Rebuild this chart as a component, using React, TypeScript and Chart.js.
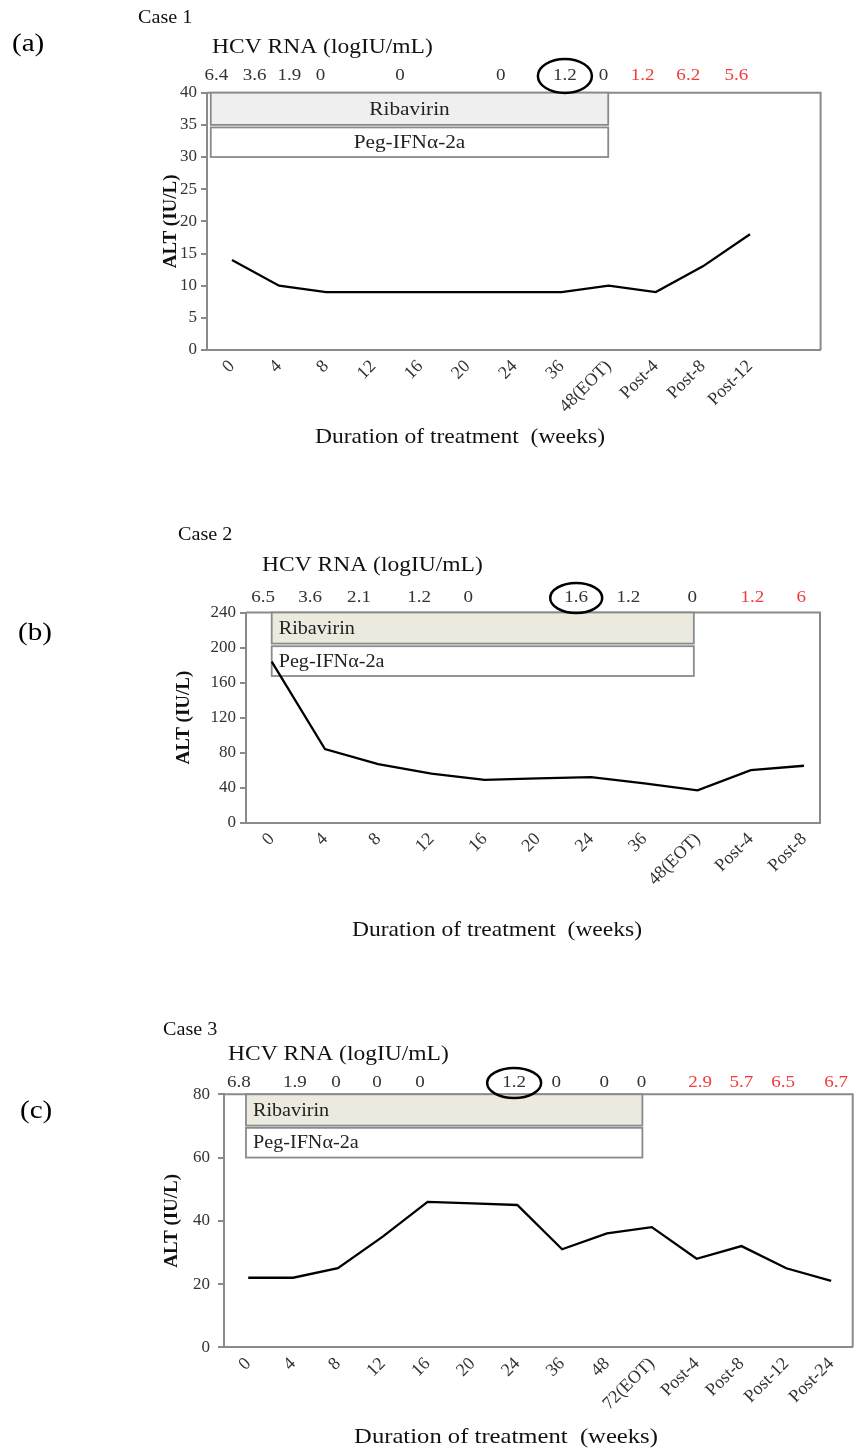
import { useEffect, useRef } from 'react';
import { Chart, registerables } from 'chart.js';

Chart.register(...registerables);

const FONT = "'Liberation Serif', 'Times New Roman', serif";
const SX = 1.12; // horizontal stretch of the original figure's lettering
const AXIS = '#8a8a8a';
const RED = '#f03c3c';
const DARK = '#333333';

// ---------- Case 1 ----------
const weeksA = ['0', '4', '8', '12', '16', '20', '24', '36', '48(EOT)', 'Post-4', 'Post-8', 'Post-12'];
const altA = [14, 10, 9, 9, 9, 9, 9, 9, 10, 9, 13, 18];
const hcvA = ['6.4', '3.6', '1.9', '0', '0', '0', '1.2', '0', '1.2', '6.2', '5.6'];
const hcvAtA = [-0.33, 0.48, 1.22, 1.88, 3.57, 5.71, 7.07, 7.89, 8.72, 9.69, 10.71];
const ribavirinA = [-0.45, 7.99, 35, 40];
const pegA = [-0.45, 7.99, 30, 34.6];

// ---------- Case 2 ----------
const weeksB = ['0', '4', '8', '12', '16', '20', '24', '36', '48(EOT)', 'Post-4', 'Post-8'];
const altB = [184, 84, 67, 56, 49, 50.5, 52, 45, 37, 60, 65];
const hcvB = ['6.5', '3.6', '2.1', '1.2', '0', '1.6', '1.2', '0', '1.2', '6'];
const hcvAtB = [-0.16, 0.72, 1.64, 2.77, 3.69, 5.72, 6.7, 7.9, 9.03, 9.95];
const ribavirinB = [0, 7.93, 204.5, 240];
const pegB = [0, 7.93, 167.5, 201.5];

// ---------- Case 3 ----------
const weeksC = ['0', '4', '8', '12', '16', '20', '24', '36', '48', '72(EOT)', 'Post-4', 'Post-8', 'Post-12', 'Post-24'];
const altC = [22, 22, 25, 35, 46, 45.5, 45, 31, 36, 38, 28, 32, 25, 21];
const hcvC = ['6.8', '1.9', '0', '0', '0', '1.2', '0', '0', '0', '2.9', '5.7', '6.5', '6.7'];
const hcvAtC = [-0.21, 1.04, 1.96, 2.87, 3.83, 5.93, 6.87, 7.94, 8.77, 10.08, 11.0, 11.93, 13.11];
const ribavirinC = [-0.05, 8.79, 70.1, 80];
const pegC = [-0.05, 8.79, 60, 69.4];

type Cfg = {
  top: number; height: number;
  left: number; right: number; ctop: number; cbottom: number;
  yTitleX: number; yTickPad: number;
  xMin: number; xMax: number; yMax: number; yStep: number;
  labels: string[]; alt: number[];
  hcv: string[]; hcvAt: number[]; postStart: number; circled: number;
  rib: number[]; peg: number[]; ribFill: string; boxAlign: 'center' | 'left'; boxFont: number;
  numY: number; circleR: [number, number];
  caseText: string; caseXY: [number, number];
  letter: string; letterXY: [number, number];
  hcvTitleXY: [number, number]; durXY: [number, number]; durFont: number;
};

const panels: Cfg[] = [
  {
    top: 0, height: 470, left: 207, right: 820.6, ctop: 92.7, cbottom: 350,
    yTitleX: 171, yTickPad: 4, xMin: -0.53, xMax: 12.5, yMax: 40, yStep: 5,
    labels: weeksA, alt: altA, hcv: hcvA, hcvAt: hcvAtA, postStart: 8, circled: 6,
    rib: ribavirinA, peg: pegA, ribFill: '#efefef', boxAlign: 'center', boxFont: 19,
    numY: 76, circleR: [27, 17],
    caseText: 'Case 1', caseXY: [138, 18], letter: '(a)', letterXY: [12, 44],
    hcvTitleXY: [212, 47], durXY: [460, 437], durFont: 21,
  },
  {
    top: 490, height: 480, left: 246, right: 820, ctop: 612.5, cbottom: 822.7,
    yTitleX: 184, yTickPad: 4, xMin: -0.483, xMax: 10.3, yMax: 240, yStep: 40,
    labels: weeksB, alt: altB, hcv: hcvB, hcvAt: hcvAtB, postStart: 8, circled: 5,
    rib: ribavirinB, peg: pegB, ribFill: '#ece9df', boxAlign: 'left', boxFont: 18,
    numY: 598, circleR: [26, 15],
    caseText: 'Case 2', caseXY: [178, 535], letter: '(b)', letterXY: [18, 633],
    hcvTitleXY: [262, 565], durXY: [497, 930], durFont: 21,
  },
  {
    top: 990, height: 459, left: 224, right: 852.7, ctop: 1094.3, cbottom: 1347.3,
    yTitleX: 172, yTickPad: 8, xMin: -0.54, xMax: 13.48, yMax: 80, yStep: 20,
    labels: weeksC, alt: altC, hcv: hcvC, hcvAt: hcvAtC, postStart: 9, circled: 5,
    rib: ribavirinC, peg: pegC, ribFill: '#ece9df', boxAlign: 'left', boxFont: 18,
    numY: 1083, circleR: [27, 15],
    caseText: 'Case 3', caseXY: [163, 1030], letter: '(c)', letterXY: [20, 1111],
    hcvTitleXY: [228, 1054], durXY: [506, 1437], durFont: 22,
  },
];

function txt(
  ctx: CanvasRenderingContext2D, s: string, x: number, y: number, size: number,
  color: string, align: CanvasTextAlign = 'left', weight = 'normal', sx = SX,
) {
  ctx.save();
  ctx.font = `${weight} ${size}px ${FONT}`;
  ctx.fillStyle = color;
  ctx.textAlign = align;
  ctx.textBaseline = 'middle';
  ctx.translate(x, y);
  ctx.scale(sx, 1);
  ctx.fillText(s, 0, 0);
  ctx.restore();
}

function Panel({ cfg }: { cfg: Cfg }) {
  const ref = useRef<HTMLCanvasElement>(null);

  useEffect(() => {
    const canvas = ref.current!;
    const W = 856;
    const H = cfg.height;
    const lh = 19 * 1.2;
    const padLeft = cfg.yTitleX - lh / 2;
    const yW = cfg.left - padLeft;
    const ctop = cfg.ctop - cfg.top;
    const cbottom = cfg.cbottom - cfg.top;
    const oy = cfg.top;

    const annot = {
      id: 'annot',
      beforeDatasetsDraw(chart: any) {
        const { ctx, chartArea: ca, scales } = chart;
        const xs = scales.x;
        const ys = scales.y;
        ctx.save();
        ctx.strokeStyle = AXIS;
        ctx.lineWidth = 2;
        ctx.beginPath();
        ctx.moveTo(ca.left, ca.top);
        ctx.lineTo(ca.right, ca.top);
        ctx.lineTo(ca.right, ca.bottom);
        ctx.stroke();
        const boxes: [number[], string, string][] = [
          [cfg.rib, cfg.ribFill, 'Ribavirin'],
          [cfg.peg, '#ffffff', 'Peg-IFN\u03b1-2a'],
        ];
        for (const [b, fill, label] of boxes) {
          const x0 = xs.getPixelForValue(b[0]);
          const x1 = xs.getPixelForValue(b[1]);
          const yTop = ys.getPixelForValue(b[3]);
          const yBot = ys.getPixelForValue(b[2]);
          ctx.fillStyle = fill;
          ctx.fillRect(x0, yTop, x1 - x0, yBot - yTop);
          ctx.strokeStyle = AXIS;
          ctx.lineWidth = 1.8;
          ctx.strokeRect(x0, yTop, x1 - x0, yBot - yTop);
          const ym = (yTop + yBot) / 2 + 1;
          if (cfg.boxAlign === 'center') txt(ctx, label, (x0 + x1) / 2, ym, cfg.boxFont, '#222', 'center');
          else txt(ctx, label, x0 + 7, ym, cfg.boxFont, '#222', 'left');
        }
        ctx.restore();
      },
      afterDraw(chart: any) {
        const { ctx, scales } = chart;
        const xs = scales.x;
        const ny = cfg.numY - oy;
        cfg.hcv.forEach((v, i) => {
          const px = xs.getPixelForValue(cfg.hcvAt[i]);
          txt(ctx, v, px, ny, 17, i >= cfg.postStart ? RED : DARK, 'center');
          if (i === cfg.circled) {
            ctx.save();
            ctx.strokeStyle = '#000';
            ctx.lineWidth = 2.5;
            ctx.beginPath();
            ctx.ellipse(px, ny, cfg.circleR[0], cfg.circleR[1], 0, 0, Math.PI * 2);
            ctx.stroke();
            ctx.restore();
          }
        });
        txt(ctx, 'HCV RNA (logIU/mL)', cfg.hcvTitleXY[0], cfg.hcvTitleXY[1] - oy, 21, '#111');
        txt(ctx, cfg.caseText, cfg.caseXY[0], cfg.caseXY[1] - oy, 18, '#111');
        txt(ctx, cfg.letter, cfg.letterXY[0], cfg.letterXY[1] - oy, 26, '#000');
        txt(ctx, 'Duration of treatment  (weeks)', cfg.durXY[0], cfg.durXY[1] - oy, cfg.durFont, '#111', 'center');
      },
    };

    const chart = new Chart(canvas, {
      type: 'line',
      data: {
        datasets: [
          {
            data: cfg.alt.map((v, i) => ({ x: i, y: v })),
            borderColor: '#000',
            borderWidth: 2.3,
            pointRadius: 0,
            tension: 0,
            fill: false,
          },
        ],
      },
      options: {
        responsive: false,
        animation: false,
        devicePixelRatio: 1,
        layout: { padding: { left: padLeft, right: W - cfg.right, top: ctop, bottom: 0 } },
        plugins: { legend: { display: false }, tooltip: { enabled: false } },
        scales: {
          x: {
            type: 'linear',
            min: cfg.xMin,
            max: cfg.xMax,
            afterBuildTicks: (s: any) => {
              s.ticks = cfg.labels.map((_, i) => ({ value: i }));
            },
            afterFit: (s: any) => {
              s.height = H - cbottom;
            },
            ticks: {
              autoSkip: false,
              minRotation: 45,
              maxRotation: 45,
              padding: 6,
              color: DARK,
              font: { family: FONT, size: 18 },
              callback: (v: any) => cfg.labels[Math.round(Number(v))] ?? '',
            },
            grid: { display: false, drawTicks: false },
            border: { display: true, color: AXIS, width: 2 },
          },
          y: {
            min: 0,
            max: cfg.yMax,
            afterFit: (s: any) => {
              s.width = yW;
            },
            ticks: {
              stepSize: cfg.yStep,
              padding: cfg.yTickPad,
              color: DARK,
              font: { family: FONT, size: 17 },
            },
            grid: { display: true, drawOnChartArea: false, drawTicks: true, tickLength: 6, color: AXIS, lineWidth: 2 },
            border: { display: true, color: AXIS, width: 2 },
            title: {
              display: true,
              text: 'ALT (IU/L)',
              color: '#111',
              padding: 0,
              font: { family: FONT, size: 19, weight: 'bold' },
            },
          },
        },
      },
      plugins: [annot],
    } as any);
    return () => chart.destroy();
  }, [cfg]);

  return (
    <canvas
      ref={ref}
      width={856}
      height={cfg.height}
      style={{ position: 'absolute', left: 0, top: cfg.top, width: 856, height: cfg.height }}
    />
  );
}

export default function App() {
  return (
    <div style={{ position: 'absolute', left: 0, top: 0, width: 856, height: 1449, background: '#fff' }}>
      {panels.map((p) => (
        <Panel key={p.caseText} cfg={p} />
      ))}
    </div>
  );
}
